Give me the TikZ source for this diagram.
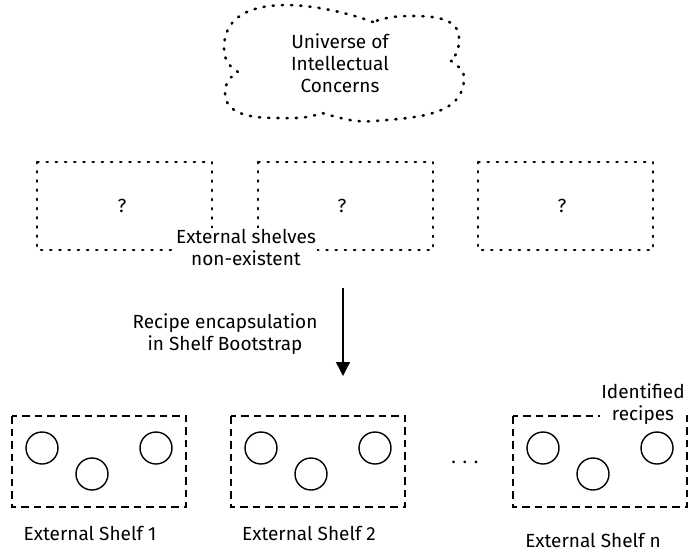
\documentclass[tikz,border=0pt]{standalone}
\usepackage{fontspec}
\setmainfont{Fira Sans}
\usetikzlibrary{arrows.meta}
\begin{document}
\begin{tikzpicture}[x=1pt,y=-1pt,
  font=\fontsize{19}{22}\selectfont,
  dotted line/.style={line width=2.6pt, line cap=round, dash pattern=on 1.2pt off 8pt},
  dotbox/.style={draw, dotted line},
  dashbox/.style={draw, line width=1.5pt, dash pattern=on 7.5pt off 5pt},
  recipe/.style={draw, circle, line width=1.4pt, minimum size=32pt, inner sep=0pt},
  lbl/.style={align=center, inner sep=1pt}]
\useasboundingbox (0,0) rectangle (696,551);

% cloud of concerns, four lobes with notches between them
\coordinate (nTop) at (373,22);
\coordinate (nLeft) at (238,72);
\coordinate (nBot) at (322,113);
\coordinate (nRight) at (450,60);
\draw[dotted line]
  (nTop) to[out=160,in=90] (224,48) to[out=-90,in=150] (nLeft)
         to[out=210,in=90] (225,93) to[out=-90,in=180] (275,118) to[out=0,in=200] (nBot)
         to[out=-15,in=185] (375,121) to[out=5,in=-90] (464,78) to[out=90,in=-40] (nRight)
         to[out=30,in=-90] (459,38) to[out=90,in=0] (415,16) to[out=180,in=20] (nTop);
\node[lbl] (universe) at (340,63) {Universe of\\Intellectual\\Concerns};

% non-existent shelves
\draw[dotbox] (37,162) rectangle (212,250);
\draw[dotbox] (258,162) rectangle (433,250);
\draw[dotbox] (478,162) rectangle (653,250);
\node (q1) at (122,206) {?};
\node (q2) at (342,206) {?};
\node (q3) at (562,206) {?};
\node[lbl, fill=white] (none) at (246,247) {External shelves\\non-existent};

% transition
\coordinate (top) at (343,288);
\coordinate (bot) at (343,376);
\draw[line width=1.4pt, -{Triangle[length=14pt,width=14pt]}] (top) -- (bot);
\node[lbl] (step) at (225,334) {Recipe encapsulation\\in Shelf Bootstrap};

% bootstrapped shelves
\draw[dashbox] (12,416) rectangle (186,507);
\draw[dashbox] (231,416) rectangle (405,507);
\draw[dashbox] (513,416) rectangle (687,507);
\node[lbl, fill=white] (ident) at (643,404) {Identified\\recipes};

\foreach \dx/\n in {0/a,219/b,501/c}{
  \node[recipe] (r1\n) at (42+\dx,448) {};
  \node[recipe] (r2\n) at (92+\dx,474) {};
  \node[recipe] (r3\n) at (156+\dx,448) {};
}
\node (dots) at (465,462) {. . .};

\node (s1) at (90,533) {External Shelf 1};
\node (s2) at (309,533) {External Shelf 2};
\node (sn) at (593,540) {External Shelf n};
\end{tikzpicture}
\end{document}
